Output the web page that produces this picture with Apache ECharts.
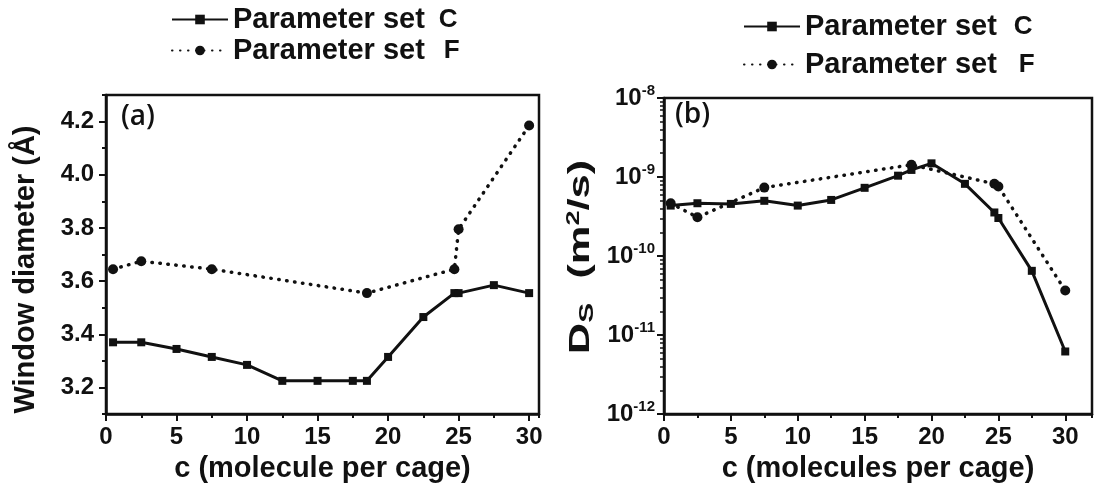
<!DOCTYPE html>
<html>
<head>
<meta charset="utf-8">
<script src="https://cdn.jsdelivr.net/npm/echarts@6/dist/echarts.min.js"></script>
<style>
  html, body { margin: 0; padding: 0; background: #fff; }
  #chart { width: 1094px; height: 488px; }
</style>
</head>
<body>
<div id="chart"></div>
<script>
// Panel (a): window diameter vs loading
const xC_a = [0.5, 2.5, 5, 7.5, 10, 12.5, 15, 17.5, 18.5, 20, 22.5, 24.7, 25, 27.5, 30];
const yC_a = [3.37, 3.37, 3.345, 3.315, 3.285, 3.225, 3.225, 3.225, 3.225, 3.315, 3.465, 3.555, 3.555, 3.585, 3.555];
const xF_a = [0.5, 2.5, 7.5, 18.5, 24.7, 25, 30];
const yF_a = [3.645, 3.675, 3.645, 3.555, 3.645, 3.795, 4.185];

// Panel (b): self-diffusivity vs loading
const xC_b = [0.5, 2.5, 5, 7.5, 10, 12.5, 15, 17.5, 18.5, 20, 22.5, 24.7, 25, 27.5, 30];
const yC_b = [4.35e-10, 4.66e-10, 4.57e-10, 5.0e-10, 4.35e-10, 5.13e-10, 7.3e-10, 1.04e-9, 1.23e-9, 1.49e-9, 8.2e-10, 3.56e-10, 3.03e-10, 6.5e-11, 6.2e-12];
const xF_b = [0.5, 2.5, 7.5, 18.5, 24.7, 25, 30];
const yF_b = [4.66e-10, 3.09e-10, 7.35e-10, 1.43e-9, 8.2e-10, 7.6e-10, 3.66e-11];

// Labelled tick positions
const xTicks = [0, 5, 10, 15, 20, 25, 30];
const yTicksA = [3.2, 3.4, 3.6, 3.8, 4.0, 4.2];

const nameC = 'Parameter set C';
const nameF = 'Parameter set F';

const FONT = 'Liberation Sans';
const INK = '#111';

const zip = (xs, ys) => xs.map((x, i) => [x, ys[i]]);

const tickLine = { color: INK, width: 2 };

function xAxisPair(gridIndex, max, title, gap) {
  return [
    {
      type: 'value', gridIndex, min: 0, max,
      name: title, nameLocation: 'middle', nameGap: gap,
      nameTextStyle: { fontFamily: FONT, fontWeight: 'bold', fontSize: 29, color: INK },
      axisLine: { show: true, lineStyle: { color: INK, width: 2.5 } },
      axisTick: { show: true, customValues: xTicks, length: 7, lineStyle: tickLine },
      axisLabel: { show: true, customValues: xTicks, margin: 11, fontFamily: FONT, fontWeight: 'bold', fontSize: 24, color: INK },
      splitLine: { show: false }
    },
    // minor ticks every 2.5
    {
      type: 'value', gridIndex, min: 0, max, interval: 2.5, position: 'bottom',
      axisLine: { show: false },
      axisTick: { show: true, length: 4, lineStyle: tickLine },
      axisLabel: { show: false },
      splitLine: { show: false }
    }
  ];
}

const supLabel = v => '{b|10}{s|' + Math.round(Math.log10(v)) + '}';

function legendFor(left, top, gap, size, padC, padF) {
  return {
    orient: 'vertical', left, top, itemWidth: 56, itemHeight: 12, itemGap: gap,
    data: [nameC, nameF],
    formatter: n => n === nameC ? '{t|Parameter set}{c|C}' : '{t|Parameter set}{f|F}',
    textStyle: {
      rich: {
        t: { fontFamily: FONT, fontWeight: 'bold', fontSize: size, lineHeight: size, color: INK },
        c: { fontFamily: FONT, fontWeight: 'bold', fontSize: size - 3, lineHeight: size, color: INK, padding: [0, 0, 0, padC] },
        f: { fontFamily: FONT, fontWeight: 'bold', fontSize: size - 3, lineHeight: size, color: INK, padding: [0, 0, 0, padF] }
      }
    }
  };
}

const dotted = { color: INK, width: 3.5, type: [0.5, 7.5], cap: 'round' };

const option = {
  animation: false,
  backgroundColor: '#fff',
  grid: [
    { left: 106, top: 95, width: 433, height: 323, show: true, borderColor: INK, borderWidth: 2.5, backgroundColor: '#fff' },
    { left: 664, top: 98, right: 2, bottom: 66, show: true, borderColor: INK, borderWidth: 2.5, backgroundColor: '#fff' }
  ],
  legend: [
    legendFor(166, 0, 2, 29, 14, 19),
    legendFor(738, 7, 9, 29, 17, 22)
  ],
  xAxis: [
    ...xAxisPair(0, 30.7, 'c (molecule per cage)', 33),
    ...xAxisPair(1, 32, 'c (molecules per cage)', 34)
  ],
  yAxis: [
    {
      type: 'value', gridIndex: 0, min: 3.1, max: 4.3,
      name: 'Window diameter (Å)', nameLocation: 'middle', nameGap: 66,
      nameTextStyle: { fontFamily: FONT, fontWeight: 'bold', fontSize: 29, color: INK, padding: [0, 30, 0, 0] },
      axisLine: { show: true, lineStyle: { color: INK, width: 2.5 } },
      axisTick: { show: true, customValues: yTicksA, length: 7, lineStyle: tickLine },
      axisLabel: { show: true, customValues: yTicksA, margin: 12, fontFamily: FONT, fontWeight: 'bold', fontSize: 24, color: INK,
        formatter: v => v.toFixed(1) },
      splitLine: { show: false }
    },
    // minor ticks every 0.1
    {
      type: 'value', gridIndex: 0, min: 3.1, max: 4.3, interval: 0.1, position: 'left',
      axisLine: { show: false },
      axisTick: { show: true, length: 4, lineStyle: tickLine },
      axisLabel: { show: false },
      splitLine: { show: false }
    },
    {
      type: 'log', gridIndex: 1, min: 1e-12, max: 1e-8, logBase: 10,
      axisLine: { show: true, lineStyle: { color: INK, width: 2.5 } },
      axisTick: { show: true, length: 7, lineStyle: tickLine },
      minorTick: { show: true, splitNumber: 9, length: 4, lineStyle: { color: INK, width: 1.5 } },
      axisLabel: {
        show: true, margin: 9, formatter: supLabel,
        rich: {
          b: { fontFamily: FONT, fontWeight: 'bold', fontSize: 24, color: INK },
          s: { fontFamily: FONT, fontWeight: 'bold', fontSize: 15, color: INK, padding: [0, 0, 14, 0] }
        }
      },
      splitLine: { show: false }
    }
  ],
  graphic: [
    { type: 'text', left: 121, top: 103, style: { text: '(a)', fontFamily: 'Open Sans', fontWeight: 600, fontSize: 28, fill: INK } },
    { type: 'text', left: 675, top: 101, style: { text: '(b)', fontFamily: 'Open Sans', fontWeight: 600, fontSize: 28, fill: INK } },
    // axis title of panel (b), set in wide lettering
    {
      type: 'text', x: 581, y: 257, rotation: Math.PI / 2, scaleX: 1.5,
      style: {
        text: '{b|D}{sub|S}{b|  (m}{sup|2}{b|/s)}',
        align: 'center', verticalAlign: 'middle',
        rich: {
          b: { fontFamily: FONT, fontWeight: 'bold', fontSize: 29, fill: INK },
          sub: { fontFamily: FONT, fontWeight: 'bold', fontSize: 20, fill: INK, padding: [12, 0, 0, 0] },
          sup: { fontFamily: FONT, fontWeight: 'bold', fontSize: 18, fill: INK, padding: [0, 0, 14, 0] }
        }
      }
    }
  ],
  series: [
    {
      name: nameC, type: 'line', xAxisIndex: 0, yAxisIndex: 0, data: zip(xC_a, yC_a),
      symbol: 'rect', symbolSize: 8, itemStyle: { color: INK }, lineStyle: { color: INK, width: 3 }
    },
    {
      name: nameF, type: 'line', xAxisIndex: 0, yAxisIndex: 0, data: zip(xF_a, yF_a),
      symbol: 'circle', symbolSize: 10, itemStyle: { color: INK }, lineStyle: dotted
    },
    {
      name: nameC, type: 'line', xAxisIndex: 2, yAxisIndex: 2, data: zip(xC_b, yC_b),
      symbol: 'rect', symbolSize: 8, itemStyle: { color: INK }, lineStyle: { color: INK, width: 3 }
    },
    {
      name: nameF, type: 'line', xAxisIndex: 2, yAxisIndex: 2, data: zip(xF_b, yF_b),
      symbol: 'circle', symbolSize: 10, itemStyle: { color: INK }, lineStyle: dotted
    }
  ]
};

const chart = echarts.init(document.getElementById('chart'), null, { renderer: 'canvas' });
chart.setOption(option);
</script>
</body>
</html>
